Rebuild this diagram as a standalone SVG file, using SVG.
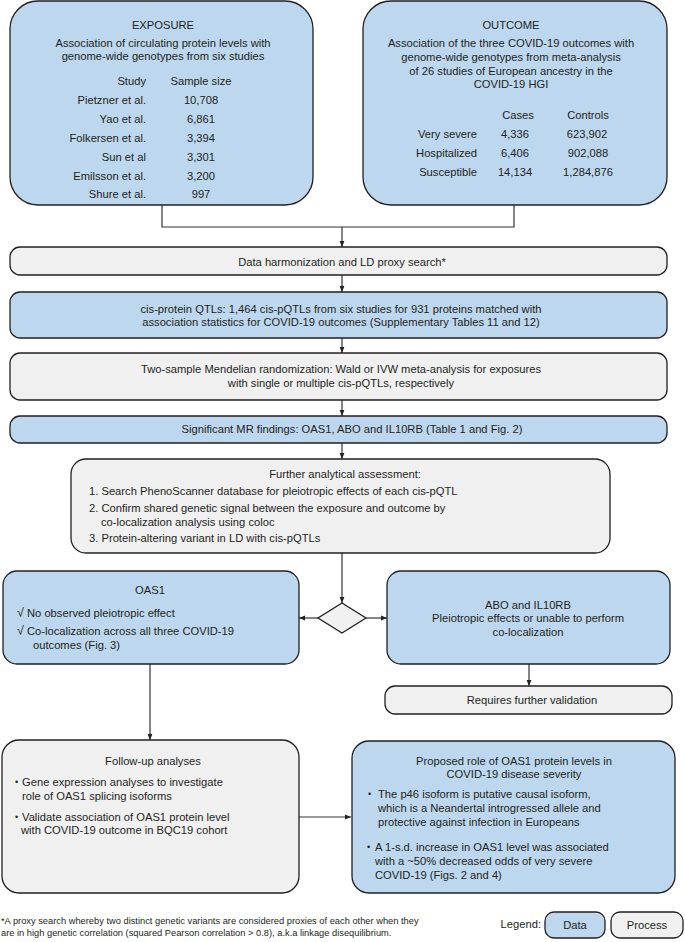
<svg xmlns="http://www.w3.org/2000/svg" width="685" height="942" viewBox="0 0 685 942">
<defs>
<marker id="ah" viewBox="0 0 10 10" refX="10" refY="5" markerWidth="6" markerHeight="6" orient="auto" markerUnits="userSpaceOnUse">
<path d="M0,1 L10,5 L0,9 z" fill="#222"/>
</marker>
<style>
text{font-family:"Liberation Sans",Arial,Helvetica,sans-serif;font-size:11.2px;fill:#231f20}
.c{text-anchor:middle}
.r{text-anchor:end}
.data{fill:#bdd7ee;stroke:#231f20;stroke-width:1.3}
.proc{fill:#f0f0f0;stroke:#231f20;stroke-width:1.3}
.ln{fill:none;stroke:#333;stroke-width:1.2}
.fn{font-size:9.3px}
.b{font-size:9px}
.ck{font-size:12.5px}
</style>
</defs>
<rect width="685" height="942" fill="#fff"/>

<g id="connectors">
<polyline class="ln" points="162,205 162,227 514,227 514,205"/>
<line class="ln" x1="342" y1="227" x2="342" y2="247" marker-end="url(#ah)"/>
<line class="ln" x1="342" y1="275" x2="342" y2="292" marker-end="url(#ah)"/>
<line class="ln" x1="342" y1="338" x2="342" y2="353" marker-end="url(#ah)"/>
<line class="ln" x1="342" y1="400" x2="342" y2="416" marker-end="url(#ah)"/>
<line class="ln" x1="342" y1="443" x2="342" y2="459" marker-end="url(#ah)"/>
<line class="ln" x1="342" y1="553" x2="342" y2="603" marker-end="url(#ah)"/>
<line class="ln" x1="318" y1="618" x2="299" y2="618" marker-end="url(#ah)"/>
<line class="ln" x1="366" y1="618" x2="387" y2="618" marker-end="url(#ah)"/>
<line class="ln" x1="529" y1="664" x2="529" y2="686" marker-end="url(#ah)"/>
<line class="ln" x1="150" y1="664" x2="150" y2="740" marker-end="url(#ah)"/>
<line class="ln" x1="299" y1="817" x2="351" y2="817" marker-end="url(#ah)"/>
</g>

<g id="exposure">
<rect class="data" x="10" y="1" width="303" height="204" rx="28"/>
<text class="c" x="163" y="29">EXPOSURE</text>
<text class="c" x="163" y="47">Association of circulating protein levels with</text>
<text class="c" x="163" y="60">genome-wide genotypes from six studies</text>
<text class="r" x="146" y="85">Study</text>
<text class="c" x="201" y="85">Sample size</text>
<text class="r" x="146" y="104">Pietzner et al.</text><text class="c" x="201" y="104">10,708</text>
<text class="r" x="146" y="123">Yao et al.</text><text class="c" x="201" y="123">6,861</text>
<text class="r" x="146" y="142">Folkersen et al.</text><text class="c" x="201" y="142">3,394</text>
<text class="r" x="146" y="161">Sun et al</text><text class="c" x="201" y="161">3,301</text>
<text class="r" x="146" y="180">Emilsson et al.</text><text class="c" x="201" y="180">3,200</text>
<text class="r" x="146" y="198">Shure et al.</text><text class="c" x="201" y="198">997</text>
</g>

<g id="outcome">
<rect class="data" x="363" y="1" width="304" height="204" rx="28"/>
<text class="c" x="511" y="29">OUTCOME</text>
<text class="c" x="511" y="47">Association of the three COVID-19 outcomes with</text>
<text class="c" x="511" y="61">genome-wide genotypes from meta-analysis</text>
<text class="c" x="511" y="75">of 26 studies of European ancestry in the</text>
<text class="c" x="511" y="88">COVID-19 HGI</text>
<text class="c" x="518" y="119">Cases</text>
<text class="c" x="588" y="119">Controls</text>
<text class="r" x="477" y="138">Very severe</text><text class="c" x="515" y="138">4,336</text><text class="c" x="587" y="138">623,902</text>
<text class="r" x="477" y="157">Hospitalized</text><text class="c" x="515" y="157">6,406</text><text class="c" x="588" y="157">902,088</text>
<text class="r" x="477" y="176">Susceptible</text><text class="c" x="515" y="176">14,134</text><text class="c" x="588" y="176">1,284,876</text>
</g>

<g id="harmonization">
<rect class="proc" x="10" y="247" width="657" height="28" rx="10"/>
<text class="c" x="342" y="266">Data harmonization and LD proxy search*</text>
</g>

<g id="cispqtl">
<rect class="data" x="10" y="292" width="657" height="46" rx="10"/>
<text class="c" x="341" y="313">cis-protein QTLs: 1,464 cis-pQTLs from six studies for 931 proteins matched with</text>
<text class="c" x="341" y="326">association statistics for COVID-19 outcomes (Supplementary Tables 11 and 12)</text>
</g>

<g id="mr">
<rect class="proc" x="10" y="353" width="657" height="47" rx="10"/>
<text class="c" x="341" y="373">Two-sample Mendelian randomization: Wald or IVW meta-analysis for exposures</text>
<text class="c" x="341" y="387">with single or multiple cis-pQTLs, respectively</text>
</g>

<g id="significant">
<rect class="data" x="10" y="416" width="657" height="27" rx="10"/>
<text class="c" x="352" y="433">Significant MR findings: OAS1, ABO and IL10RB (Table 1 and Fig. 2)</text>
</g>

<g id="further">
<rect class="proc" x="71" y="459" width="539" height="94" rx="15"/>
<text class="c" x="345" y="478">Further analytical assessment:</text>
<text x="89" y="495">1. Search PhenoScanner database for pleiotropic effects of each cis-pQTL</text>
<text x="89" y="512">2. Confirm shared genetic signal between the exposure and outcome by</text>
<text x="101" y="526">co-localization analysis using coloc</text>
<text x="89" y="542">3. Protein-altering variant in LD with cis-pQTLs</text>
</g>

<g id="decision">
<polygon class="proc" points="342,603 366,618 342,633 318,618"/>
</g>

<g id="oas1">
<rect class="data" x="3" y="571" width="296" height="93" rx="14"/>
<text class="c" x="150" y="594">OAS1</text>
<text x="17" y="617"><tspan class="ck">√</tspan> No observed pleiotropic effect</text>
<text x="17" y="635"><tspan class="ck">√</tspan> Co-localization across all three COVID-19</text>
<text x="33" y="649">outcomes (Fig. 3)</text>
</g>

<g id="abo">
<rect class="data" x="387" y="571" width="283" height="93" rx="14"/>
<text class="c" x="528" y="609">ABO and IL10RB</text>
<text class="c" x="528" y="622">Pleiotropic effects or unable to perform</text>
<text class="c" x="528" y="636">co-localization</text>
</g>

<g id="validation">
<rect class="proc" x="385" y="686" width="287" height="28" rx="10"/>
<text class="c" x="532" y="704">Requires further validation</text>
</g>

<g id="followup">
<rect class="proc" x="2" y="740" width="297" height="153" rx="17"/>
<text class="c" x="153" y="765">Follow-up analyses</text>
<text class="b" x="15" y="785">•</text><text x="22" y="786">Gene expression analyses to investigate</text>
<text x="22" y="800">role of OAS1 splicing isoforms</text>
<text class="b" x="15" y="820">•</text><text x="22" y="821">Validate association of OAS1 protein level</text>
<text x="21" y="834">with COVID-19 outcome in BQC19 cohort</text>
</g>

<g id="proposed">
<rect class="data" x="352" y="741" width="323" height="152" rx="17"/>
<text class="c" x="514" y="765">Proposed role of OAS1 protein levels in</text>
<text class="c" x="514" y="778">COVID-19 disease severity</text>
<text class="b" x="368" y="797">•</text><text x="378" y="798">The p46 isoform is putative causal isoform,</text>
<text x="378" y="812">which is a Neandertal introgressed allele and</text>
<text x="378" y="826">protective against infection in Europeans</text>
<text class="b" x="367" y="850">•</text><text x="375" y="851">A 1-s.d. increase in OAS1 level was associated</text>
<text x="375" y="865">with a ~50% decreased odds of very severe</text>
<text x="375" y="879">COVID-19 (Figs. 2 and 4)</text>
</g>

<g id="footnote">
<text class="fn" x="1" y="924">*A proxy search whereby two distinct genetic variants are considered proxies of each other when they</text>
<text class="fn" x="1" y="936">are in high genetic correlation (squared Pearson correlation &gt; 0.8), a.k.a linkage disequilibrium.</text>
</g>

<g id="legend">
<text class="r" x="541" y="928">Legend:</text>
<rect class="data" x="545" y="912" width="60" height="26" rx="9"/>
<text class="c" x="575" y="929">Data</text>
<rect class="proc" x="611" y="912" width="72" height="26" rx="9"/>
<text class="c" x="647" y="929">Process</text>
</g>
</svg>
